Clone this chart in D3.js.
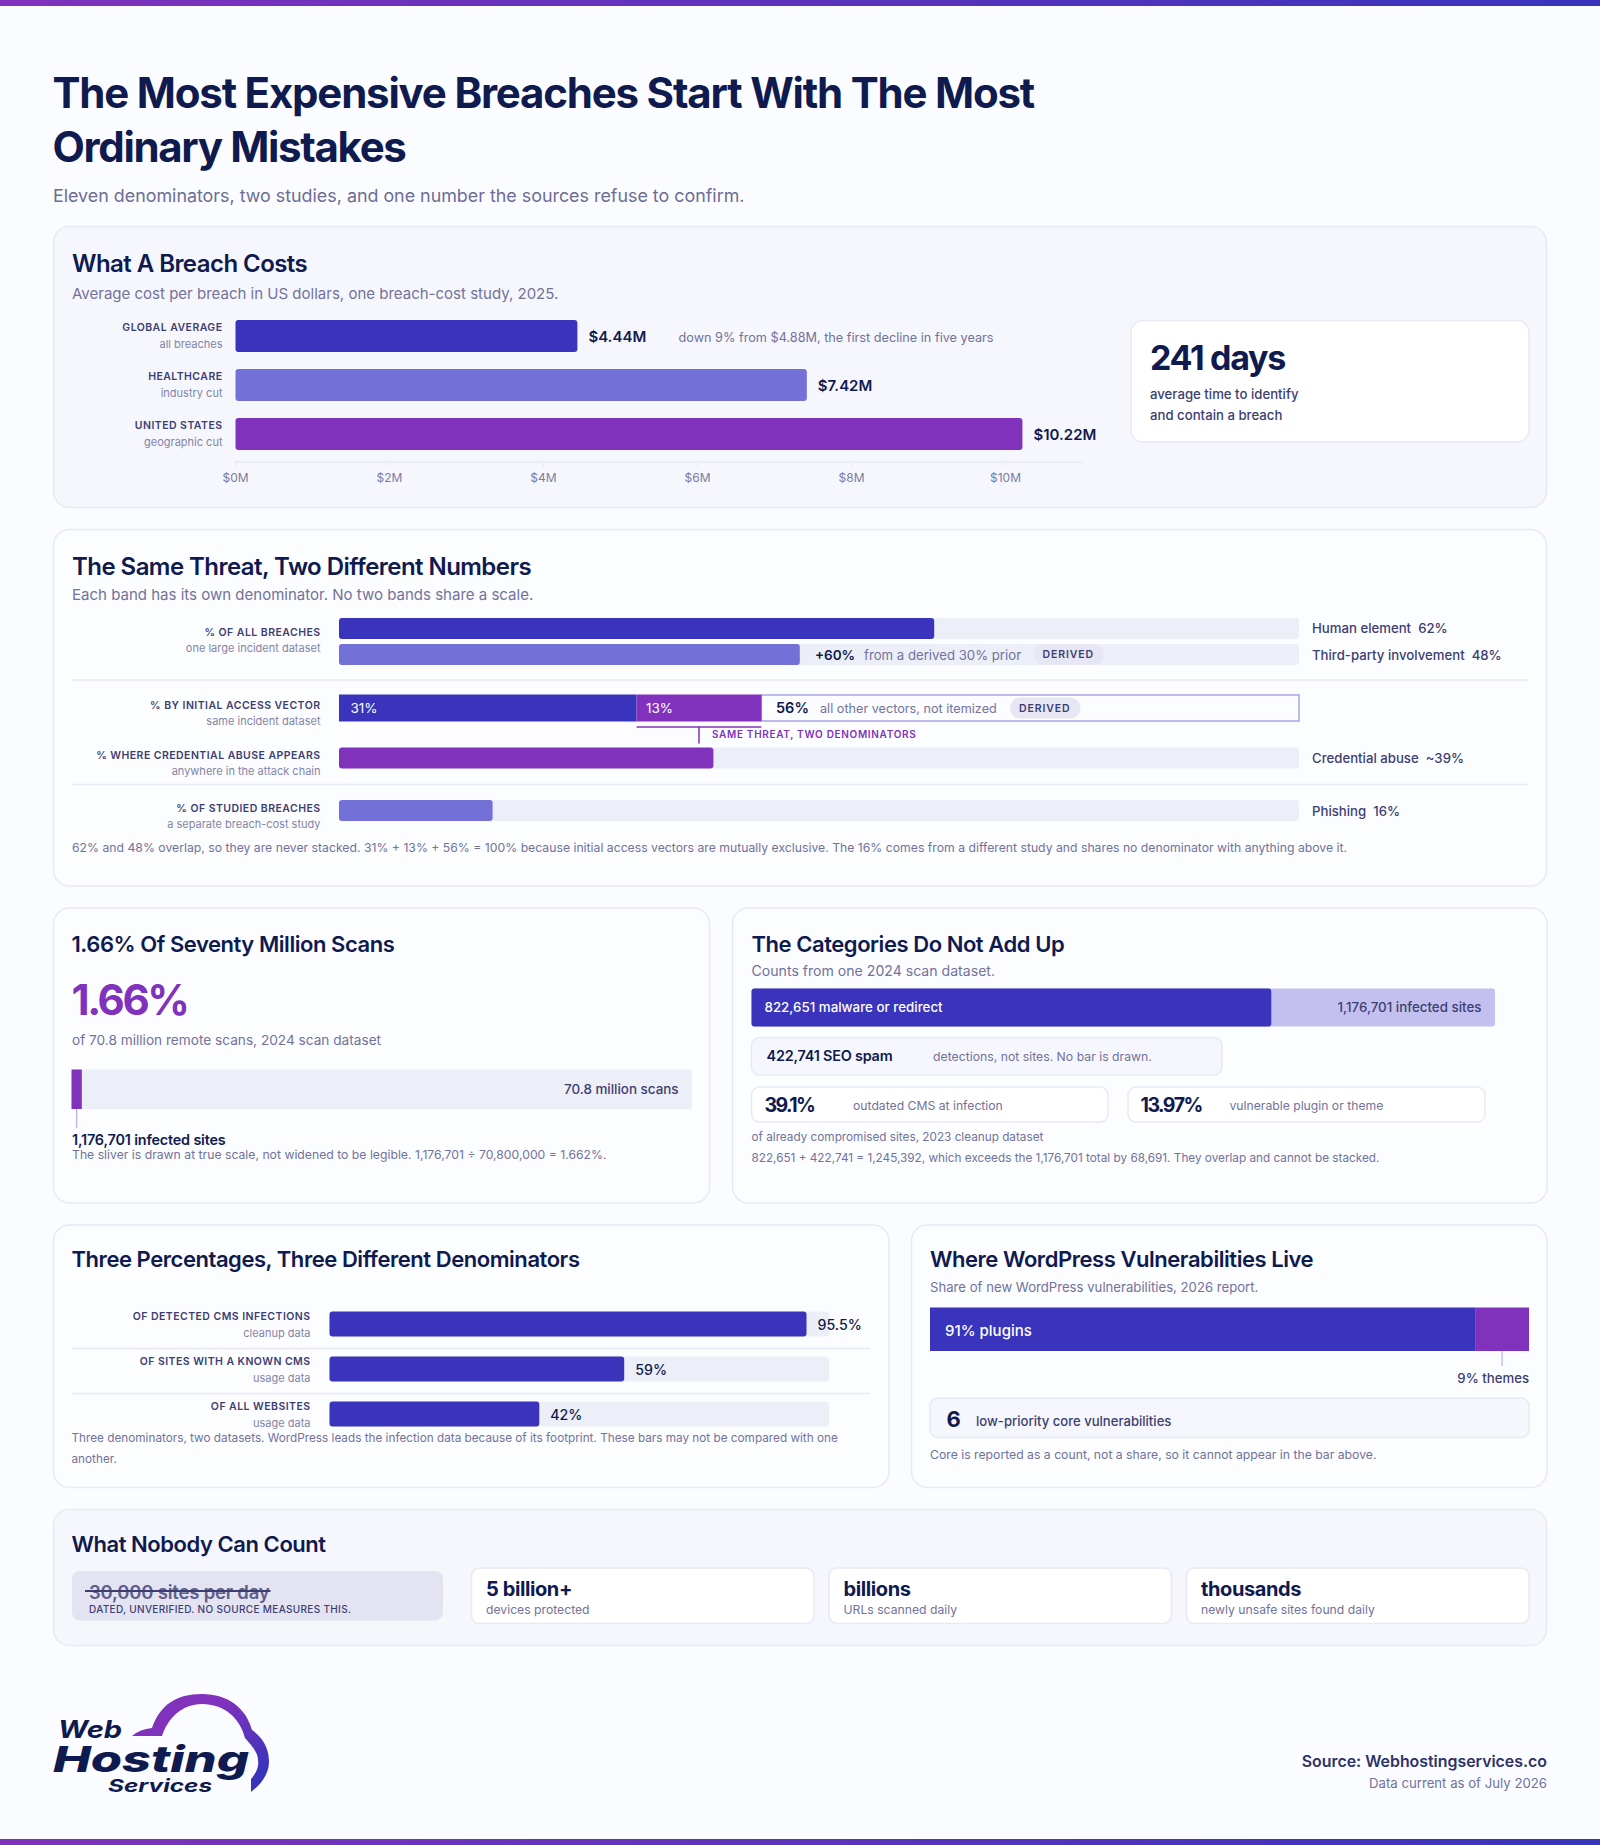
<!DOCTYPE html>
<html>
<head>
<meta charset="utf-8">
<title>The Most Expensive Breaches Start With The Most Ordinary Mistakes</title>
<script src="https://d3js.org/d3.v7.min.js"></script>
<style>
  html, body { margin: 0; padding: 0; background: #fbfcff; }
  svg { display: block; font-family: Inter, "Noto Sans", sans-serif; }
</style>
</head>
<body>
<svg id="chart" width="1600" height="1845" viewBox="0 0 1600 1845"></svg>
<script>
// What a breach costs
var costLabels = ["GLOBAL AVERAGE", "HEALTHCARE", "UNITED STATES"];
var costSubs = ["all breaches", "industry cut", "geographic cut"];
var costValues = [4.44, 7.42, 10.22];
var costTicks = [0, 2, 4, 6, 8, 10];

// The same threat, two different numbers
var overlapLabels = ["Human element", "Third-party involvement"];
var overlapValues = [62, 48];
var vectorValues = [31, 13, 56];
var credentialValue = 39;
var phishingValue = 16;

// Scans
var infectedSites = 1176701;
var totalScans = 70800000;
var malwareSites = 822651;

// Three percentages
var cmsLabels = ["OF DETECTED CMS INFECTIONS", "OF SITES WITH A KNOWN CMS", "OF ALL WEBSITES"];
var cmsSubs = ["cleanup data", "usage data", "usage data"];
var cmsValues = [95.5, 59, 42];

// WordPress vulnerabilities
var vulnLabels = ["plugins", "themes"];
var vulnValues = [91, 9];

// What nobody can count
var countValues = ["5 billion+", "billions", "thousands"];
var countLabels = ["devices protected", "URLs scanned daily", "newly unsafe sites found daily"];

var BLUE = "#3934bb", MID = "#7370d8", PURPLE = "#8032bd", TRACK = "#edeff8",
    NAVY = "#0f1a4f", INK = "#2f3268", LABEL = "#3c3e72", MUTED = "#72729c",
    LINE = "#e8e9f5", PANEL = "#f6f7fc", LEADER = "#a8a2e6";

var svg = d3.select("#chart");
var defs = svg.append("defs");

var barGrad = defs.append("linearGradient").attr("id", "band");
barGrad.append("stop").attr("offset", "0%").attr("stop-color", PURPLE);
barGrad.append("stop").attr("offset", "100%").attr("stop-color", BLUE);

var logoGrad = defs.append("linearGradient").attr("id", "logo-arc")
    .attr("x1", "0%").attr("y1", "0%").attr("x2", "60%").attr("y2", "100%");
logoGrad.append("stop").attr("offset", "35%").attr("stop-color", PURPLE);
logoGrad.append("stop").attr("offset", "100%").attr("stop-color", BLUE);

function text(x, y, str, o) {
    o = o || {};
    return svg.append("text")
        .attr("x", x)
        .attr("y", y)
        .attr("text-anchor", o.anchor || "start")
        .attr("font-size", o.size || 13.2)
        .attr("font-weight", o.weight || 400)
        .attr("fill", o.fill || MUTED)
        .attr("letter-spacing", o.ls || 0)
        .attr("font-style", o.italic ? "italic" : "normal")
        .style("white-space", "pre")
        .text(str);
}

function box(x, y, w, h, r, fill, stroke, sw) {
    return svg.append("rect")
        .attr("x", x).attr("y", y)
        .attr("width", w).attr("height", h)
        .attr("rx", r)
        .attr("fill", fill)
        .attr("stroke", stroke || "none")
        .attr("stroke-width", sw || 1.5);
}

function rule(x1, y1, x2, y2, color, sw) {
    return svg.append("line")
        .attr("x1", x1).attr("y1", y1)
        .attr("x2", x2).attr("y2", y2)
        .attr("stroke", color)
        .attr("stroke-width", sw || 1.5);
}

function card(x, y, w, h, fill) {
    return box(x, y, w, h, 16, fill || "#fcfdff", LINE, 1.5);
}

// The two wide cards at the top use a slightly larger heading
function cardTitle(x, y, str, large) {
    return text(x, y, str, { size: large ? 24 : 22, weight: 600, fill: NAVY, ls: large ? -0.55 : -0.45 });
}

function note(x, y, str, size) {
    return text(x, y, str, { size: size || 12.23 });
}

function rowLabel(x, y, str, sub, subY) {
    text(x, y, str, { size: 10.5, weight: 600, fill: LABEL, anchor: "end", ls: 0.45 });
    text(x, subY, sub, { size: 11, fill: "#8484a8", anchor: "end" });
}

function pill(x, y, w, h, textX, textY) {
    box(x, y, w, h, h / 2, "#e6e6f4");
    text(textX, textY, "DERIVED", { size: 10.5, weight: 600, fill: LABEL, ls: 0.9 });
}

// Top and bottom bands
box(0, 0, 1600, 6, 0, "url(#band)");
box(0, 1839, 1600, 6, 0, "url(#band)");

// Header
text(52.5, 108, "The Most Expensive Breaches Start With The Most", { size: 42, weight: 700, fill: NAVY, ls: -1.2 });
text(52.5, 162, "Ordinary Mistakes", { size: 42, weight: 700, fill: NAVY, ls: -1.34 });
text(53, 202, "Eleven denominators, two studies, and one number the sources refuse to confirm.", { size: 17.88, fill: "#6c6c96" });

// ---- What A Breach Costs ----
card(53.5, 226.5, 1493, 281, PANEL);
cardTitle(72, 272, "What A Breach Costs", true);
text(72, 299, "Average cost per breach in US dollars, one breach-cost study, 2025.", { size: 15.03 });

var costX = d3.scaleLinear().domain([0, 11]).range([235.5, 1082.5]);
var costY = d3.scaleBand().domain(costLabels).range([320, 450]).paddingInner(17 / 49).paddingOuter(0);
var costColors = [BLUE, MID, PURPLE];

svg.append("g").selectAll("rect")
    .data(costValues)
  .join("rect")
    .attr("x", costX(0))
    .attr("y", function (d, i) { return costY(costLabels[i]); })
    .attr("width", function (d) { return costX(d) - costX(0); })
    .attr("height", 32)
    .attr("rx", 3)
    .attr("fill", function (d, i) { return costColors[i]; });

costValues.forEach(function (d, i) {
    var top = costY(costLabels[i]);
    rowLabel(222.5, top + 11, costLabels[i], costSubs[i], top + 27.5);
    text(costX(d) + 11, top + 22, "$" + d3.format(".2f")(d) + "M", { size: 15, weight: 600, fill: NAVY });
});
text(678.5, 342, "down 9% from $4.88M, the first decline in five years", { size: 12.7 });

var costAxis = svg.append("g")
    .attr("transform", "translate(-0.5,461.5)")
    .call(d3.axisBottom(costX)
        .tickValues(costTicks)
        .tickFormat(function (d) { return "$" + d + "M"; })
        .tickSize(5)
        .tickSizeOuter(0)
        .tickPadding(7));
costAxis.select(".domain").attr("stroke", LINE).attr("stroke-width", 1.5);
costAxis.selectAll(".tick line").attr("stroke", LINE);
costAxis.selectAll(".tick text")
    .attr("font-family", "Inter, sans-serif")
    .attr("font-size", 12)
    .attr("fill", "#7c7ca2");

box(1131, 320.5, 398, 121.5, 12, "#ffffff", LINE, 1.5);
text(1150, 370, "241 days", { size: 34, weight: 700, fill: NAVY, ls: -1.3 });
text(1150, 399, "average time to identify", { size: 13.2, weight: 500, fill: LABEL });
text(1150, 420, "and contain a breach", { size: 13.2, weight: 500, fill: LABEL });

// ---- The Same Threat, Two Different Numbers ----
card(53.5, 529.5, 1493, 356.5);
cardTitle(72, 575, "The Same Threat, Two Different Numbers", true);
text(72, 600, "Each band has its own denominator. No two bands share a scale.", { size: 15.03 });

var pct = d3.scaleLinear().domain([0, 100]).range([339, 1299]);

function trackBar(y, h, value, color) {
    box(pct(0), y, pct(100) - pct(0), h, 3, TRACK);
    box(pct(0), y, pct(value) - pct(0), h, 3, color);
}

rowLabel(320.5, 635.5, "% OF ALL BREACHES", "one large incident dataset", 652);
trackBar(618, 21, overlapValues[0], BLUE);
trackBar(644, 21, overlapValues[1], MID);
text(1312, 633, overlapLabels[0] + "  " + overlapValues[0] + "%", { weight: 500, fill: LABEL });
text(1312, 660, overlapLabels[1] + "  " + overlapValues[1] + "%", { weight: 500, fill: LABEL });
text(815, 660, "+60%", { size: 13.5, weight: 600, fill: NAVY });
text(864, 660, "from a derived 30% prior", { size: 13.2 });
pill(1034, 644, 70, 21, 1042.5, 658);

rule(72, 680, 1528, 680, LINE);

rowLabel(320.5, 708.5, "% BY INITIAL ACCESS VECTOR", "same incident dataset", 725);
var vectorEnds = d3.cumsum(vectorValues);
box(pct(vectorEnds[1]), 695, pct(vectorEnds[2]) - pct(vectorEnds[1]), 26, 0, "#fcfdff", LEADER, 1.5);
box(pct(0), 694.5, pct(vectorEnds[0]) - pct(0), 27, 0, BLUE);
box(pct(vectorEnds[0]), 694.5, pct(vectorEnds[1]) - pct(vectorEnds[0]), 27, 0, PURPLE);
text(350.5, 713, vectorValues[0] + "%", { size: 13.5, fill: "#ffffff" });
text(646, 713, vectorValues[1] + "%", { size: 13.5, fill: "#ffffff" });
text(776, 713, vectorValues[2] + "%", { size: 14.5, weight: 600, fill: NAVY });
text(820, 713, "all other vectors, not itemized", { size: 12.67 });
pill(1010, 697.5, 70.5, 21, 1019, 712);

// Bracket tying the 13% segment to the credential band
rule(pct(vectorEnds[0]), 727, pct(vectorEnds[1]), 727, PURPLE, 1.5);
rule((pct(vectorEnds[0]) + pct(vectorEnds[1])) / 2, 727, (pct(vectorEnds[0]) + pct(vectorEnds[1])) / 2, 743.5, PURPLE, 1.5);
text(712, 738, "SAME THREAT, TWO DENOMINATORS", { size: 10, weight: 600, fill: PURPLE, ls: 0.68 });

rowLabel(320.5, 758.5, "% WHERE CREDENTIAL ABUSE APPEARS", "anywhere in the attack chain", 775);
trackBar(747.5, 21, credentialValue, PURPLE);
text(1312, 763, "Credential abuse  ~" + credentialValue + "%", { weight: 500, fill: LABEL });

rule(72, 784.5, 1528, 784.5, LINE);

rowLabel(320.5, 811.5, "% OF STUDIED BREACHES", "a separate breach-cost study", 828);
trackBar(800, 21, phishingValue, MID);
text(1312, 815.5, "Phishing  " + phishingValue + "%", { weight: 500, fill: LABEL });

note(72, 851.5, "62% and 48% overlap, so they are never stacked. 31% + 13% + 56% = 100% because initial access vectors are mutually exclusive. The 16% comes from a different study and shares no denominator with anything above it.");

// ---- 1.66% Of Seventy Million Scans ----
card(53.5, 908, 656, 295);
cardTitle(71.5, 952, "1.66% Of Seventy Million Scans");
text(71.5, 1015, d3.format(".2f")(infectedSites / totalScans * 100) + "%", { size: 42, weight: 700, fill: PURPLE, ls: -2.4 });
text(72, 1045, "of 70.8 million remote scans, 2024 scan dataset", { size: 13.65 });

var scanX = d3.scaleLinear().domain([0, totalScans]).range([71.5, 692]);
box(scanX(0), 1069.5, scanX(totalScans) - scanX(0), 39.5, 3, TRACK);
box(scanX(0), 1069.5, scanX(infectedSites) - scanX(0), 39.5, 0, PURPLE);
text(678.5, 1094, "70.8 million scans", { size: 13.4, weight: 500, fill: LABEL, anchor: "end" });
rule(scanX(infectedSites / 2), 1109, scanX(infectedSites / 2), 1128, LEADER, 1);
text(72, 1145, d3.format(",")(infectedSites) + " infected sites", { size: 14.4, weight: 600, fill: NAVY, ls: -0.17 });
note(72, 1159, "The sliver is drawn at true scale, not widened to be legible. 1,176,701 \u00f7 70,800,000 = 1.662%.");

// ---- The Categories Do Not Add Up ----
card(732.5, 908, 814.5, 295);
cardTitle(751.5, 952, "The Categories Do Not Add Up");
text(751.5, 976, "Counts from one 2024 scan dataset.", { size: 14.1 });

var siteX = d3.scaleLinear().domain([0, infectedSites]).range([751.5, 1495]);
box(siteX(0), 988.5, siteX(infectedSites) - siteX(0), 38, 3, "#c3c0ef");
box(siteX(0), 988.5, siteX(malwareSites) - siteX(0), 38, 3, BLUE);
text(764.5, 1012, d3.format(",")(malwareSites) + " malware or redirect", { size: 13.35, weight: 500, fill: "#ffffff" });
text(1481.5, 1012, d3.format(",")(infectedSites) + " infected sites", { size: 13.35, weight: 500, fill: LABEL, anchor: "end" });

box(751.5, 1037.5, 470.5, 37.5, 8, PANEL, LINE, 1.5);
text(766.5, 1060.5, "422,741 SEO spam", { size: 14.4, weight: 600, fill: NAVY, ls: -0.2 });
text(933, 1061, "detections, not sites. No bar is drawn.", { size: 12.25 });

box(751.5, 1087, 356.5, 35, 8, "#ffffff", LINE, 1.5);
text(764.5, 1111.5, "39.1%", { size: 19.5, weight: 700, fill: NAVY, ls: -1.6 });
text(853, 1110, "outdated CMS at infection", { size: 12.2 });
box(1128, 1087, 357, 35, 8, "#ffffff", LINE, 1.5);
text(1140.5, 1111.5, "13.97%", { size: 19.5, weight: 700, fill: NAVY, ls: -1.5 });
text(1229.5, 1110, "vulnerable plugin or theme", { size: 12.2 });

note(751.5, 1141, "of already compromised sites, 2023 cleanup dataset", 11.75);
note(751.5, 1161.5, "822,651 + 422,741 = 1,245,392, which exceeds the 1,176,701 total by 68,691. They overlap and cannot be stacked.", 11.75);

// ---- Three Percentages, Three Different Denominators ----
card(53.5, 1225, 835.5, 262.5);
cardTitle(71.5, 1266.5, "Three Percentages, Three Different Denominators");

var cmsX = d3.scaleLinear().domain([0, 100]).range([329.5, 829]);
var cmsY = d3.scaleBand().domain(cmsLabels).range([1311.5, 1426.5]).paddingInner(20 / 45).paddingOuter(0);

svg.append("g").selectAll("rect")
    .data(cmsValues)
  .join("rect")
    .attr("x", cmsX(0))
    .attr("y", function (d, i) { return cmsY(cmsLabels[i]); })
    .attr("width", cmsX(100) - cmsX(0))
    .attr("height", 25)
    .attr("rx", 3)
    .attr("fill", TRACK);

svg.append("g").selectAll("rect")
    .data(cmsValues)
  .join("rect")
    .attr("x", cmsX(0))
    .attr("y", function (d, i) { return cmsY(cmsLabels[i]); })
    .attr("width", function (d) { return cmsX(d) - cmsX(0); })
    .attr("height", 25)
    .attr("rx", 3)
    .attr("fill", BLUE);

cmsValues.forEach(function (d, i) {
    var top = cmsY(cmsLabels[i]);
    rowLabel(310.5, top + 8, cmsLabels[i], cmsSubs[i], top + 25);
    text(cmsX(d) + 11, top + 18, d + "%", { size: 14.2, weight: 500, fill: NAVY });
});
rule(72, 1348.5, 870, 1348.5, LINE);
rule(72, 1393.5, 870, 1393.5, LINE);

note(71.5, 1441.5, "Three denominators, two datasets. WordPress leads the infection data because of its footprint. These bars may not be compared with one", 11.76);
note(71.5, 1462.5, "another.", 11.76);

// ---- Where WordPress Vulnerabilities Live ----
card(911.5, 1225, 635.5, 262.5);
cardTitle(930, 1266.5, "Where WordPress Vulnerabilities Live");
text(930, 1292, "Share of new WordPress vulnerabilities, 2026 report.", { size: 13.17 });

var vulnX = d3.scaleLinear().domain([0, 100]).range([930, 1529]);
box(vulnX(0), 1307.5, vulnX(vulnValues[0]) - vulnX(0), 43.5, 0, BLUE);
box(vulnX(vulnValues[0]), 1307.5, vulnX(100) - vulnX(vulnValues[0]), 43.5, 0, PURPLE);
text(945, 1335.5, vulnValues[0] + "% " + vulnLabels[0], { size: 15, weight: 500, fill: "#ffffff" });
rule(vulnX(100 - vulnValues[1] / 2), 1351, vulnX(100 - vulnValues[1] / 2), 1366, LEADER, 1);
text(1529, 1382.5, vulnValues[1] + "% " + vulnLabels[1], { weight: 500, fill: LABEL, anchor: "end" });

box(930, 1398, 599, 39.5, 8, PANEL, LINE, 1.5);
text(946.5, 1426.5, "6", { size: 22, weight: 700, fill: NAVY });
text(976, 1426, "low-priority core vulnerabilities", { size: 13.1, weight: 500, fill: LABEL });
note(930, 1459, "Core is reported as a count, not a share, so it cannot appear in the bar above.");

// ---- What Nobody Can Count ----
card(53.5, 1509.5, 1493, 136, PANEL);
cardTitle(71.5, 1551.5, "What Nobody Can Count");

box(72, 1571, 371, 49.5, 8, "#e4e3f2");
text(89, 1598.5, "30,000 sites per day", { size: 18.5, weight: 600, fill: "#5e5e8c", ls: -0.2 });
rule(85, 1591, 270.5, 1591, LABEL, 2);
text(89, 1612.5, "DATED, UNVERIFIED. NO SOURCE MEASURES THIS.", { size: 10, weight: 500, fill: LABEL, ls: 0.33 });

var countX = d3.scaleBand().domain(countValues).range([471.5, 1529]).paddingInner(15 / 357).paddingOuter(0);
countValues.forEach(function (d, i) {
    var left = countX(d);
    box(left, 1568, countX.bandwidth(), 55.5, 8, "#ffffff", LINE, 1.5);
    text(left + 14.5, 1595.5, d, { size: 20, weight: 700, fill: NAVY, ls: -0.4 });
    text(left + 14.5, 1614, countLabels[i], { size: 12.2 });
});

// ---- Footer ----
var arc = d3.path();
arc.moveTo(132, 1736);
arc.quadraticCurveTo(140, 1729, 152, 1728);
arc.bezierCurveTo(160, 1705, 176, 1694, 202, 1694);
arc.bezierCurveTo(228, 1694, 246, 1708, 252, 1730);
arc.bezierCurveTo(266, 1740, 269, 1752, 269, 1762);
arc.bezierCurveTo(269, 1772, 263, 1783, 251, 1792);
arc.lineTo(251, 1779);
arc.bezierCurveTo(257, 1772, 259, 1766, 258, 1760);
arc.bezierCurveTo(258, 1752, 251, 1745, 245, 1738);
arc.bezierCurveTo(240, 1718, 224, 1704, 202, 1704);
arc.bezierCurveTo(182, 1704, 168, 1718, 162, 1736);
arc.closePath();
svg.append("path").attr("d", arc.toString()).attr("fill", "url(#logo-arc)");

text(58, 1738, "Web", { size: 24, weight: 700, fill: NAVY, italic: true }).attr("textLength", 64).attr("lengthAdjust", "spacingAndGlyphs");
text(53, 1772, "Hosting", { size: 36, weight: 800, fill: NAVY, italic: true }).attr("textLength", 196).attr("lengthAdjust", "spacingAndGlyphs");
text(108, 1792, "Services", { size: 18, weight: 700, fill: NAVY, italic: true }).attr("textLength", 104).attr("lengthAdjust", "spacingAndGlyphs");

text(1547, 1766.5, "Source: Webhostingservices.co", { size: 15.9, weight: 600, fill: INK, anchor: "end" });
text(1547, 1788, "Data current as of July 2026", { anchor: "end" });
</script>
</body>
</html>
